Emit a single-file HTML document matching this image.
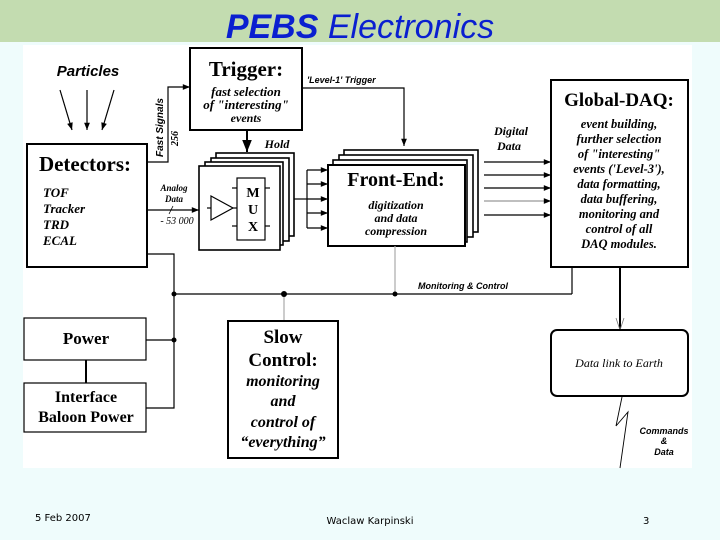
<!DOCTYPE html>
<html><head><meta charset="utf-8"><style>
body{margin:0;width:720px;height:540px;background:#effcfc;overflow:hidden;position:relative;font-family:"Liberation Sans",sans-serif}
</style></head><body>
<svg width="720" height="540" viewBox="0 0 720 540" xmlns="http://www.w3.org/2000/svg" style="position:absolute;left:0;top:0">
<defs><marker id="a" viewBox="0 0 10 10" refX="10" refY="5" markerWidth="7" markerHeight="6" orient="auto"><path d="M0,1 L10,5 L0,9 z" fill="#000"/></marker></defs>
<rect x="0" y="0" width="720" height="42" fill="#c3dcb0"/>
<text x="360" y="38" text-anchor="middle" font-size="34" fill="#0a1fd0" font-style="italic"><tspan font-weight="bold">PEBS</tspan> Electronics</text>
<rect x="23" y="45" width="669" height="423" fill="#fff"/>
<text x="88" y="76" text-anchor="middle" font-family="Liberation Sans,sans-serif" font-weight="bold" font-style="italic" font-size="15">Particles</text>
<g stroke="#000" stroke-width="1.2" fill="none">
<line x1="60" y1="90" x2="72" y2="130" marker-end="url(#a)"/>
<line x1="87" y1="90" x2="87" y2="130" marker-end="url(#a)"/>
<line x1="114" y1="90" x2="102" y2="130" marker-end="url(#a)"/>
<rect x="190" y="48" width="112" height="82" stroke-width="2"/>
<rect x="27" y="144" width="120" height="123" stroke-width="2"/>
<polyline points="147,162 168,162 168,87 190,87" marker-end="url(#a)"/>
<line x1="247" y1="130" x2="247" y2="152" stroke-width="2" marker-end="url(#a)"/>
<polyline points="302,88 404,88 404,146" marker-end="url(#a)"/>
<rect x="216" y="153" width="78" height="83" fill="#fff" stroke-width="1.6"/>
<rect x="211" y="158" width="78" height="83" fill="#fff" stroke-width="1.6"/>
<rect x="205" y="162" width="78" height="83" fill="#fff" stroke-width="1.6"/>
<rect x="199" y="166" width="81" height="84" fill="#fff" stroke-width="1.6"/>
<rect x="237" y="178" width="28" height="62" fill="#fff"/>
<path d="M211,196 L233,208 L211,220 Z"/>
<line x1="207" y1="208" x2="211" y2="208"/><line x1="233" y1="208" x2="237" y2="208"/>
<line x1="232" y1="188" x2="237" y2="188"/><line x1="232" y1="226" x2="237" y2="226"/>
<line x1="265" y1="188" x2="270" y2="188"/><line x1="265" y1="226" x2="270" y2="226"/>
<line x1="147" y1="210" x2="199" y2="210" marker-end="url(#a)"/>
<line x1="169" y1="214" x2="173" y2="206" stroke-width="0.8"/>
<line x1="294" y1="199" x2="307" y2="199"/>
<line x1="307" y1="170" x2="307" y2="228"/>
<line x1="307" y1="170" x2="328" y2="170" marker-end="url(#a)"/>
<line x1="307" y1="184" x2="328" y2="184" marker-end="url(#a)"/>
<line x1="307" y1="199" x2="328" y2="199" marker-end="url(#a)"/>
<line x1="307" y1="213" x2="328" y2="213" marker-end="url(#a)"/>
<line x1="307" y1="228" x2="328" y2="228" marker-end="url(#a)"/>
<rect x="344" y="150" width="134" height="82" fill="#fff" stroke-width="1.6"/>
<rect x="339" y="155" width="134" height="82" fill="#fff" stroke-width="1.6"/>
<rect x="333" y="160" width="134" height="82" fill="#fff" stroke-width="1.6"/>
<rect x="328" y="165" width="137" height="81" fill="#fff" stroke-width="2"/>
<line x1="484" y1="162" x2="551" y2="162" marker-end="url(#a)"/>
<line x1="484" y1="175" x2="551" y2="175" marker-end="url(#a)"/>
<line x1="484" y1="188" x2="551" y2="188" marker-end="url(#a)"/>
<line x1="484" y1="201" x2="551" y2="201" stroke="#999" marker-end="url(#a)"/>
<line x1="484" y1="215" x2="551" y2="215" marker-end="url(#a)"/>
<rect x="551" y="80" width="137" height="187" stroke-width="2"/>
<polyline points="147,254 174,254 174,408 146,408"/>
<line x1="146" y1="340" x2="174" y2="340"/>
<line x1="174" y1="294" x2="572" y2="294"/>
<line x1="572" y1="294" x2="572" y2="267"/>
<line x1="395" y1="246" x2="395" y2="294" stroke="#aaa"/>
<line x1="284" y1="294" x2="284" y2="321" stroke="#aaa"/>
<line x1="86" y1="360" x2="86" y2="383" stroke-width="2"/>
<rect x="24" y="318" width="122" height="42"/>
<rect x="24" y="383" width="122" height="49"/>
<rect x="228" y="321" width="110" height="137" stroke-width="2"/>
<line x1="620" y1="267" x2="620" y2="330" stroke-width="2"/>
<path d="M616,318 L620,330 L624,318" stroke="#777" stroke-width="0.8"/>
<rect x="551" y="330" width="137" height="66" rx="6" stroke-width="2"/>
<polyline points="622,397 616,426 628,412 620,468" stroke-width="0.9"/>
</g>
<g fill="#000">
<circle cx="174" cy="294" r="2.5"/><circle cx="284" cy="294" r="3"/><circle cx="395" cy="294" r="2.5"/><circle cx="174" cy="340" r="2.5"/>
</g>
<g font-family="Liberation Serif,serif" fill="#000" text-anchor="middle">
<text x="246" y="76" font-size="21" font-weight="bold">Trigger:</text>
<text x="246" y="96" font-size="13" font-weight="bold" font-style="italic">fast selection</text>
<text x="246" y="109" font-size="13" font-weight="bold" font-style="italic">of "interesting"</text>
<text x="246" y="122" font-size="12" font-weight="bold" font-style="italic">events</text>
<text x="277" y="148" font-size="12" font-weight="bold" font-style="italic">Hold</text>
<text x="85" y="171" font-size="21" font-weight="bold">Detectors:</text>
<g text-anchor="start" font-size="13" font-weight="bold" font-style="italic"><text x="43" y="197">TOF</text><text x="43" y="213">Tracker</text><text x="43" y="229">TRD</text><text x="43" y="245">ECAL</text></g>
<text x="174" y="191" font-size="9" font-weight="bold" font-style="italic">Analog</text>
<text x="174" y="202" font-size="9" font-weight="bold" font-style="italic">Data</text>
<text x="177" y="224" font-size="10" font-style="italic">- 53 000</text>
<text x="253" y="197" font-size="14" font-weight="bold">M</text>
<text x="253" y="214" font-size="14" font-weight="bold">U</text>
<text x="253" y="231" font-size="14" font-weight="bold">X</text>
<text x="396" y="186" font-size="20" font-weight="bold">Front-End:</text>
<text x="396" y="209" font-size="12" font-weight="bold" font-style="italic">digitization</text>
<text x="396" y="222" font-size="12" font-weight="bold" font-style="italic">and data</text>
<text x="396" y="235" font-size="12" font-weight="bold" font-style="italic">compression</text>
<text x="511" y="135" font-size="12" font-weight="bold" font-style="italic">Digital</text>
<text x="509" y="150" font-size="12" font-weight="bold" font-style="italic">Data</text>
<text x="619" y="106" font-size="19" font-weight="bold">Global-DAQ:</text>
<g font-size="12.5" font-weight="bold" font-style="italic"><text x="619" y="128">event building,</text><text x="619" y="143">further selection</text><text x="619" y="158">of "interesting"</text><text x="619" y="173">events ('Level-3'),</text><text x="619" y="188">data formatting,</text><text x="619" y="203">data buffering,</text><text x="619" y="218">monitoring and</text><text x="619" y="233">control of all</text><text x="619" y="248">DAQ modules.</text></g>
<text x="619" y="367" font-size="12" font-style="italic">Data link to Earth</text>
<text x="86" y="344" font-size="17" font-weight="bold">Power</text>
<text x="86" y="402" font-size="16" font-weight="bold">Interface</text>
<text x="86" y="422" font-size="16" font-weight="bold">Baloon Power</text>
<text x="283" y="343" font-size="19" font-weight="bold">Slow</text>
<text x="283" y="366" font-size="19" font-weight="bold">Control:</text>
<g font-size="16" font-style="italic" font-weight="bold"><text x="283" y="386">monitoring</text><text x="283" y="406">and</text><text x="283" y="427">control of</text><text x="283" y="447">“everything”</text></g>
</g>
<g font-family="Liberation Sans,sans-serif" font-weight="bold" font-style="italic" font-size="9" fill="#000">
<text x="307" y="83">'Level-1' Trigger</text>
<text x="418" y="289">Monitoring &amp; Control</text>
<text x="664" y="434" text-anchor="middle">Commands</text>
<text x="664" y="444" text-anchor="middle">&amp;</text>
<text x="664" y="455" text-anchor="middle">Data</text>
<text transform="translate(163,157) rotate(-90)" font-size="10">Fast Signals</text>
<text transform="translate(178,146) rotate(-90)" font-family="Liberation Serif,serif" font-size="10">256</text>
</g>
<g font-family="DejaVu Sans,sans-serif" font-size="10" fill="#000">
<text x="35" y="521">5 Feb 2007</text>
<text x="370" y="524" text-anchor="middle">Waclaw Karpinski</text>
<text x="643" y="524">3</text>
</g>
</svg>
</body></html>
